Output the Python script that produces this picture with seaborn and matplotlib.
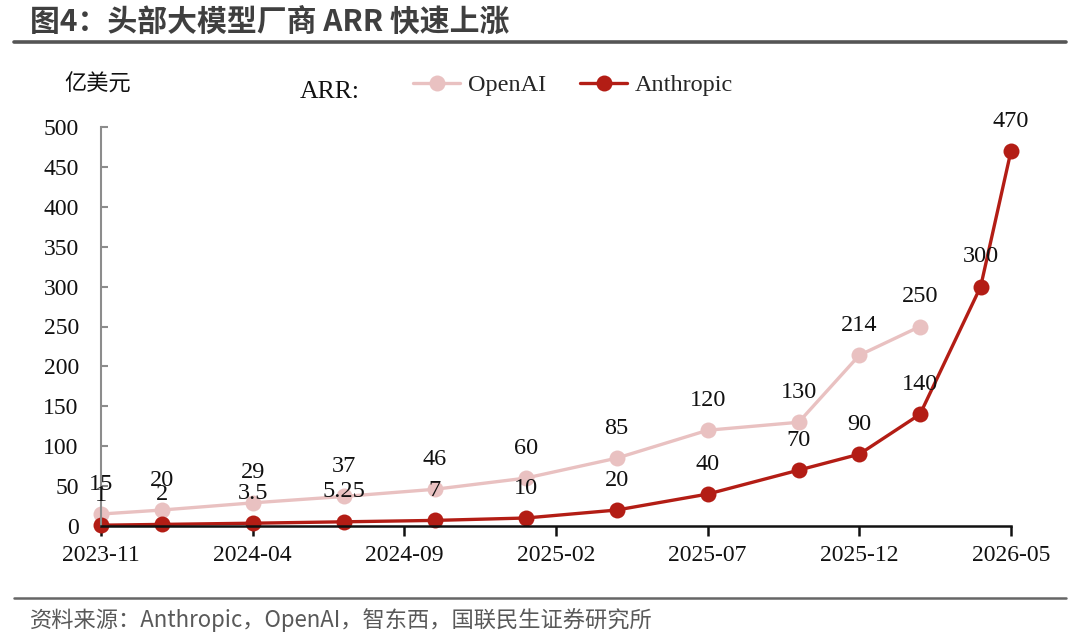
import matplotlib
matplotlib.use("Agg")
import matplotlib.pyplot as plt
import seaborn as sns
import pandas as pd

# ---- data ----
openai_month = [0, 2, 5, 8, 11, 14, 17, 20, 23, 25, 27]
openai_arr = [15, 20, 29, 37, 46, 60, 85, 120, 130, 214, 250]
openai_labels = ["15", "20", "29", "37", "46", "60", "85", "120", "130", "214", "250"]

anthropic_month = [0, 2, 5, 8, 11, 14, 17, 20, 23, 25, 27, 29, 30]
anthropic_arr = [1, 2, 3.5, 5.25, 7, 10, 20, 40, 70, 90, 140, 300, 470]
anthropic_labels = ["1", "2", "3.5", "5.25", "7", "10", "20", "40", "70", "90", "140", "300", "470"]

xtick_pos = [0, 5, 10, 15, 20, 25, 30]
xtick_labels = ["2023-11", "2024-04", "2024-09", "2025-02", "2025-07", "2025-12", "2026-05"]
ytick_vals = [0, 50, 100, 150, 200, 250, 300, 350, 400, 450, 500]

title = "图4：头部大模型厂商 ARR 快速上涨"
source = "资料来源：Anthropic，OpenAI，智东西，国联民生证券研究所"
unit = "亿美元"

C_OPENAI = "#E9C1C1"
C_ANTH = "#B31D15"

sns.set_theme(style="white")
plt.rcParams["font.family"] = ["Liberation Serif", "Noto Sans CJK SC", "DejaVu Sans"]

df_o = pd.DataFrame({"month": openai_month, "arr": openai_arr})
df_a = pd.DataFrame({"month": anthropic_month, "arr": anthropic_arr})

fig = plt.figure(figsize=(10.8, 6.4), dpi=100)
ax = fig.add_axes([101 / 1080, (640 - 526) / 640, (1011 - 101) / 1080, (526 - 127) / 640])

sns.lineplot(data=df_o, x="month", y="arr", ax=ax, color=C_OPENAI, linewidth=2.4,
             marker="o", markersize=11.5, markeredgewidth=0, label="OpenAI", clip_on=False)
sns.lineplot(data=df_a, x="month", y="arr", ax=ax, color=C_ANTH, linewidth=2.4,
             marker="o", markersize=11.5, markeredgewidth=0, label="Anthropic", clip_on=False)

LBL = 17.5
for x, y, t in zip(openai_month, openai_arr, openai_labels):
    ax.annotate(t, (x, y), xytext=(0, 21.5), textcoords="offset points",
                ha="center", va="center", fontsize=LBL, color="#111111")
for x, y, t in zip(anthropic_month, anthropic_arr, anthropic_labels):
    ax.annotate(t, (x, y), xytext=(0, 21.5), textcoords="offset points",
                ha="center", va="center", fontsize=LBL, color="#111111")

ax.set_xlim(0, 30)
ax.set_ylim(0, 500)
ax.set_xticks(xtick_pos)
ax.set_xticklabels(xtick_labels)
ax.set_yticks(ytick_vals)
ax.set_yticklabels([str(v) for v in ytick_vals])
ax.set_xlabel("")
ax.set_ylabel("")

for s in ["top", "right"]:
    ax.spines[s].set_visible(False)
ax.spines["left"].set_color("#8c8c8c")
ax.spines["left"].set_linewidth(1.5)
ax.spines["bottom"].set_color("#111111")
ax.spines["bottom"].set_linewidth(1.8)

ax.tick_params(axis="y", direction="in", length=5, width=1.5, color="#8c8c8c",
               labelsize=17, pad=16, labelcolor="#111111", left=True)
ax.tick_params(axis="x", direction="out", length=7, width=1.8, color="#111111",
               labelsize=17, pad=7, labelcolor="#111111", bottom=True)

leg = ax.legend(loc="center left", bbox_to_anchor=(413 / 1080, 1 - 85 / 640),
                bbox_transform=fig.transFigure, ncol=2, frameon=False,
                fontsize=17.5, handlelength=1.95, columnspacing=1.4, handletextpad=0.3,
                borderaxespad=0, borderpad=0)
fig.text(300 / 1080, 1 - 92 / 640, "ARR:", fontsize=18.5, va="center", ha="left", color="#111111")
fig.text(64 / 1080, 1 - 84 / 640, unit, fontsize=16, va="center", ha="left", color="#111111",
         family=["Noto Sans CJK SC"], fontweight="light")

# title and frame lines
fig.text(30 / 1080, 1 - 22 / 640, title, fontsize=21.5, fontweight="bold", color="#3f3f3f",
         va="center", ha="left", family=["Noto Sans CJK SC", "DejaVu Sans"])
fig.add_artist(plt.Line2D([14 / 1080, 1066 / 1080], [1 - 42 / 640, 1 - 42 / 640],
                          color="#555555", linewidth=2.6, transform=fig.transFigure))
fig.add_artist(plt.Line2D([14 / 1080, 1066 / 1080], [1 - 598 / 640, 1 - 598 / 640],
                          color="#666666", linewidth=1.8, transform=fig.transFigure))
fig.text(30 / 1080, 1 - 620 / 640, source, fontsize=16, color="#595959",
         va="center", ha="left", family=["Noto Sans CJK SC", "DejaVu Sans"])

fig.savefig("out.png", dpi=100)
